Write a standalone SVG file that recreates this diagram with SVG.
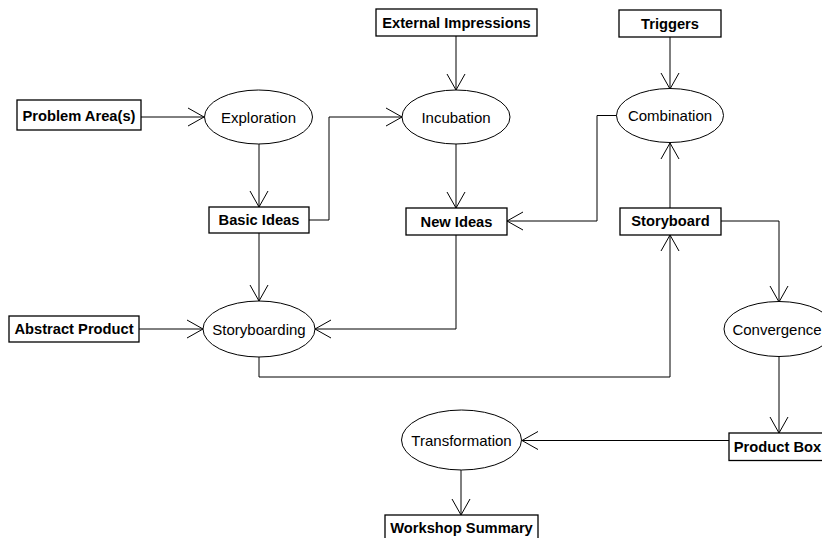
<svg xmlns="http://www.w3.org/2000/svg" width="822" height="538" viewBox="0 0 822 538">
<style>
.box{fill:#fff;stroke:#000;stroke-width:1.3}
.ell{fill:#fff;stroke:#000;stroke-width:1}
.bt{font-family:"Liberation Sans",Arial,sans-serif;font-size:14.7px;font-weight:bold;text-anchor:middle;dominant-baseline:central;fill:#000}
.et{font-family:"Liberation Sans",Arial,sans-serif;font-size:15px;text-anchor:middle;dominant-baseline:central;fill:#000}
.c{fill:none;stroke:#000;stroke-width:1;marker-end:url(#a)}
</style>
<defs>
<marker id="a" markerUnits="userSpaceOnUse" markerWidth="18" markerHeight="20" viewBox="-1 -1 18 20" refX="16" refY="9" orient="auto">
<path d="M0,0 L16,9 L0,18" fill="none" stroke="#000" stroke-width="1"/>
</marker>
</defs>
<rect width="822" height="538" fill="#fff"/>
<g id="connectors">
<path class="c" d="M141,117 H204"/>
<path class="c" d="M259,144 V207"/>
<path class="c" d="M309,220 H329 V117 H402"/>
<path class="c" d="M456,36 V90"/>
<path class="c" d="M670,37 V89"/>
<path class="c" d="M456,144 V208"/>
<path class="c" d="M617,115.5 H597 V221 H507"/>
<path class="c" d="M670,208 V143"/>
<path class="c" d="M721,221 H779 V302"/>
<path class="c" d="M259,233 V301"/>
<path class="c" d="M139,329 H203"/>
<path class="c" d="M456,235 V329 H315"/>
<path class="c" d="M259,357 V377 H670 V235"/>
<path class="c" d="M779,356 V433"/>
<path class="c" d="M729,440.5 H522"/>
<path class="c" d="M461,470 V515"/>
</g>
<g id="problem-area"><rect class="box" x="17" y="100" width="124" height="30"/><text class="bt" x="79" y="116">Problem Area(s)</text></g>
<g id="exploration"><ellipse class="ell" cx="258.5" cy="117" rx="54" ry="27"/><text class="et" x="258.5" y="117">Exploration</text></g>
<g id="basic-ideas"><rect class="box" x="209" y="207" width="100" height="26"/><text class="bt" x="259" y="220">Basic Ideas</text></g>
<g id="external-impressions"><rect class="box" x="376" y="9" width="161" height="27"/><text class="bt" x="456.5" y="22.5">External Impressions</text></g>
<g id="incubation"><ellipse class="ell" cx="456" cy="117" rx="54" ry="27"/><text class="et" x="456" y="117">Incubation</text></g>
<g id="triggers"><rect class="box" x="619" y="10" width="102" height="27"/><text class="bt" x="670" y="23.5">Triggers</text></g>
<g id="combination"><ellipse class="ell" cx="670" cy="115.5" rx="53.5" ry="27"/><text class="et" x="670" y="115.5">Combination</text></g>
<g id="new-ideas"><rect class="box" x="406" y="208" width="101" height="27"/><text class="bt" x="456.5" y="221.5">New Ideas</text></g>
<g id="storyboard"><rect class="box" x="620" y="208" width="101" height="27"/><text class="bt" x="670.5" y="221">Storyboard</text></g>
<g id="abstract-product"><rect class="box" x="9" y="316" width="130" height="26"/><text class="bt" x="74" y="329">Abstract Product</text></g>
<g id="storyboarding"><ellipse class="ell" cx="259" cy="329" rx="56" ry="28"/><text class="et" x="259" y="329">Storyboarding</text></g>
<g id="convergence"><ellipse class="ell" cx="779" cy="329" rx="55" ry="27.5"/><text class="et" x="777" y="329">Convergence</text></g>
<g id="product-box"><rect class="box" x="729" y="433" width="101" height="27.5"/><text class="bt" x="777.5" y="447">Product Box</text></g>
<g id="transformation"><ellipse class="ell" cx="461.5" cy="440" rx="60" ry="30"/><text class="et" x="461.5" y="440">Transformation</text></g>
<g id="workshop-summary"><rect class="box" x="385" y="515" width="153" height="27"/><text class="bt" x="461.5" y="528">Workshop Summary</text></g>
</svg>
